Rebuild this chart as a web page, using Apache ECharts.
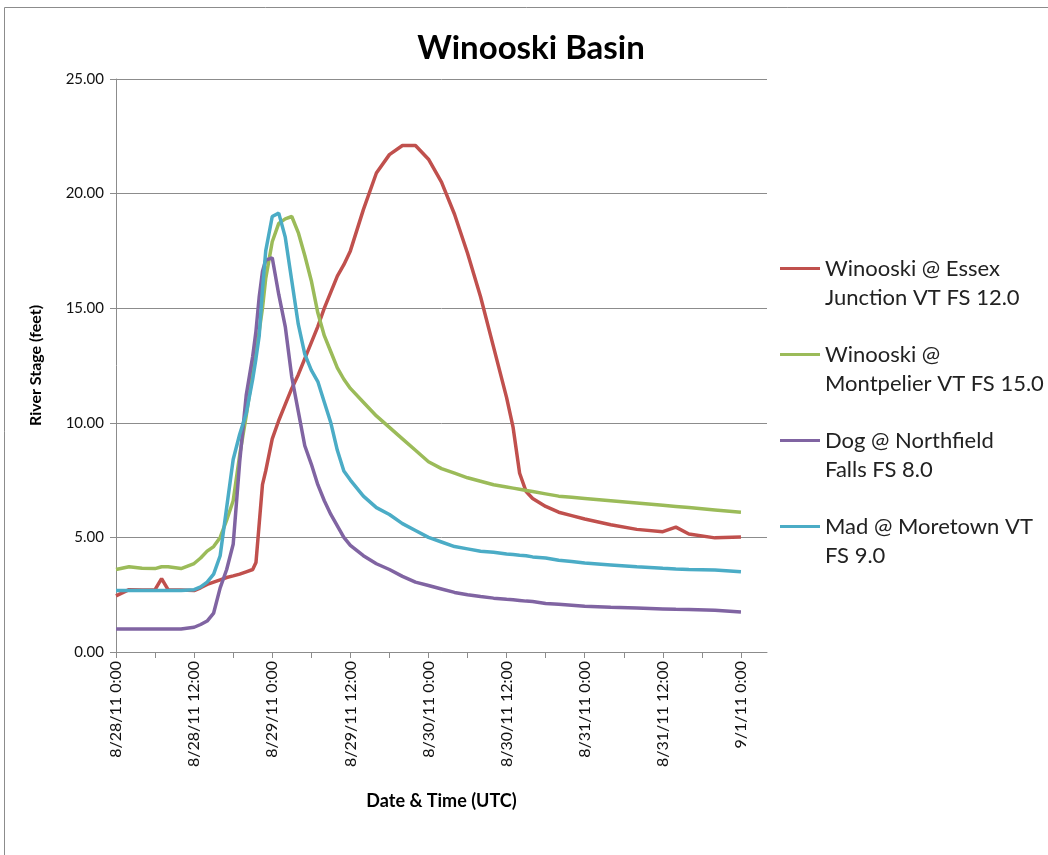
<!DOCTYPE html>
<html>
<head>
<meta charset="utf-8">
<script src="https://cdn.jsdelivr.net/npm/echarts@6/dist/echarts.min.js"></script>
<style>html,body{margin:0;padding:0;background:#fff}#c{width:1048px;height:855px}</style>
</head>
<body>
<div id="c"></div>
<script>
// hours after 8/28/11 0:00 UTC
const hours = [0,2,4,6,7,8,10,12,13,14,15,16,17,18,19,20,21,21.5,22,22.5,23,24,25,26,27,28,29,30,31,32,33,34,35,36,38,40,42,44,46,48,50,52,54,56,58,60,61,62,63,64,66,68,70,72,76,80,84,86,88,92,96];

const essex = [2.45,2.72,2.7,2.72,3.2,2.72,2.7,2.68,2.8,2.95,3.05,3.15,3.25,3.32,3.4,3.5,3.6,3.9,5.6,7.3,7.9,9.3,10.1,10.8,11.5,12.1,12.8,13.5,14.2,15.0,15.7,16.4,16.9,17.5,19.3,20.9,21.7,22.1,22.1,21.5,20.5,19.1,17.4,15.5,13.3,11.1,9.8,7.8,7.0,6.7,6.35,6.1,5.95,5.8,5.55,5.35,5.25,5.45,5.15,4.98,5.02];

const montpelier = [3.6,3.72,3.65,3.64,3.72,3.72,3.64,3.86,4.1,4.4,4.6,5.0,5.75,6.6,8.6,10.3,12.2,13.1,14.0,15.0,16.3,17.9,18.7,18.9,19.0,18.3,17.3,16.2,14.8,13.8,13.1,12.4,11.9,11.5,10.9,10.3,9.8,9.3,8.8,8.3,8.0,7.8,7.6,7.45,7.3,7.2,7.15,7.1,7.05,7.0,6.9,6.8,6.75,6.7,6.6,6.5,6.4,6.35,6.3,6.2,6.1];

const northfield = [1.0,1.0,1.0,1.0,1.0,1.0,1.0,1.08,1.2,1.35,1.7,2.8,3.6,4.7,8.3,11.2,12.9,14.0,15.5,16.6,17.1,17.2,15.6,14.2,12.0,10.5,9.0,8.2,7.3,6.6,6.0,5.5,5.0,4.65,4.2,3.85,3.6,3.3,3.05,2.9,2.75,2.6,2.5,2.42,2.35,2.3,2.28,2.25,2.22,2.2,2.12,2.08,2.04,2.0,1.95,1.92,1.88,1.86,1.85,1.82,1.75];

const moretown = [2.68,2.68,2.68,2.68,2.68,2.68,2.68,2.72,2.84,3.05,3.4,4.2,6.3,8.4,9.5,10.4,11.9,12.8,13.8,15.8,17.5,19.0,19.15,18.1,16.2,14.3,13.0,12.3,11.8,10.9,10.0,8.8,7.9,7.5,6.8,6.3,6.0,5.6,5.3,5.0,4.8,4.6,4.5,4.4,4.35,4.28,4.25,4.22,4.2,4.15,4.1,4.0,3.95,3.88,3.8,3.72,3.65,3.62,3.6,3.58,3.5];

const seriesNames = [
  'Winooski @ Essex Junction VT FS 12.0',
  'Winooski @ Montpelier VT FS 15.0',
  'Dog @ Northfield Falls FS 8.0',
  'Mad @ Moretown VT FS 9.0'
];
const legendLines = [
  ['Winooski @ Essex', 'Junction VT FS 12.0'],
  ['Winooski @', 'Montpelier VT FS 15.0'],
  ['Dog @ Northfield', 'Falls FS 8.0'],
  ['Mad @ Moretown VT', 'FS 9.0']
];
const tickHours = [0,6,12,18,24,30,36,42,48,54,60,66,72,78,84,90,96];
const labelHours = [0,12,24,36,48,60,72,84,96];
const tickLabels = ['8/28/11 0:00','8/28/11 12:00','8/29/11 0:00','8/29/11 12:00','8/30/11 0:00','8/30/11 12:00','8/31/11 0:00','8/31/11 12:00','9/1/11 0:00'];

const colors = ['#C0504D','#9BBB59','#8064A2','#4BACC6'];
const allValues = [essex, montpelier, northfield, moretown];

const chart = echarts.init(document.getElementById('c'));
const gray = '#8c8c8c';
const font = 'Lato, "Open Sans", sans-serif';

chart.setOption({
  animation: false,
  color: colors,
  title: {
    text: 'Winooski Basin',
    left: 526, top: 27, textAlign: 'center',
    textStyle: {fontFamily: font, fontWeight: 'bold', fontSize: 33, color: '#000'}
  },
  graphic: [{
    type: 'rect', silent: true,
    shape: {x: 4.5, y: 7.5, width: 1100, height: 900},
    style: {fill: 'none', stroke: '#8c8c8c', lineWidth: 1}
  }],
  legend: {
    orient: 'vertical',
    left: 780, top: 225, padding: 0,
    itemWidth: 40, itemHeight: 3, itemGap: -1,
    icon: 'rect',
    data: seriesNames,
    formatter: function (name) {
      const l = legendLines[seriesNames.indexOf(name)];
      return ' \n' + l[0] + '\n' + l[1];
    },
    textStyle: {fontFamily: font, fontSize: 22, color: '#222', lineHeight: 29}
  },
  grid: {left: 116, right: 281, top: 79, bottom: 203, containLabel: false},
  xAxis: {
    type: 'value', min: 0, max: 100,
    name: 'Date & Time (UTC)', nameLocation: 'middle', nameGap: 140,
    nameTextStyle: {fontFamily: font, fontWeight: 'bold', fontSize: 18, color: '#000'},
    axisLine: {show: true, lineStyle: {color: gray, width: 1}},
    axisTick: {show: true, length: 6, customValues: tickHours, lineStyle: {color: gray}},
    axisLabel: {
      customValues: labelHours, rotate: 90, margin: 9,
      fontFamily: font, fontSize: 16, color: '#111',
      formatter: function (v) { return tickLabels[labelHours.indexOf(v)]; }
    },
    splitLine: {show: false}
  },
  yAxis: {
    type: 'value', min: 0, max: 25, interval: 5,
    name: 'River Stage (feet)', nameLocation: 'middle', nameGap: 72, nameRotate: 90,
    nameTextStyle: {fontFamily: font, fontWeight: 'bold', fontSize: 16, color: '#000'},
    axisLine: {show: true, lineStyle: {color: gray, width: 1}},
    axisTick: {show: true, length: 6, lineStyle: {color: gray}},
    axisLabel: {margin: 12, fontFamily: font, fontSize: 15, color: '#111',
      formatter: function (v) { return v.toFixed(2); }},
    splitLine: {show: true, lineStyle: {color: gray, width: 1}}
  },
  series: allValues.map(function (vals, i) {
    return {
      name: seriesNames[i], type: 'line', showSymbol: false, symbol: 'none',
      lineStyle: {width: 3.5, color: colors[i]},
      data: hours.map(function (h, k) { return [h, vals[k]]; })
    };
  })
});
</script>
</body>
</html>
